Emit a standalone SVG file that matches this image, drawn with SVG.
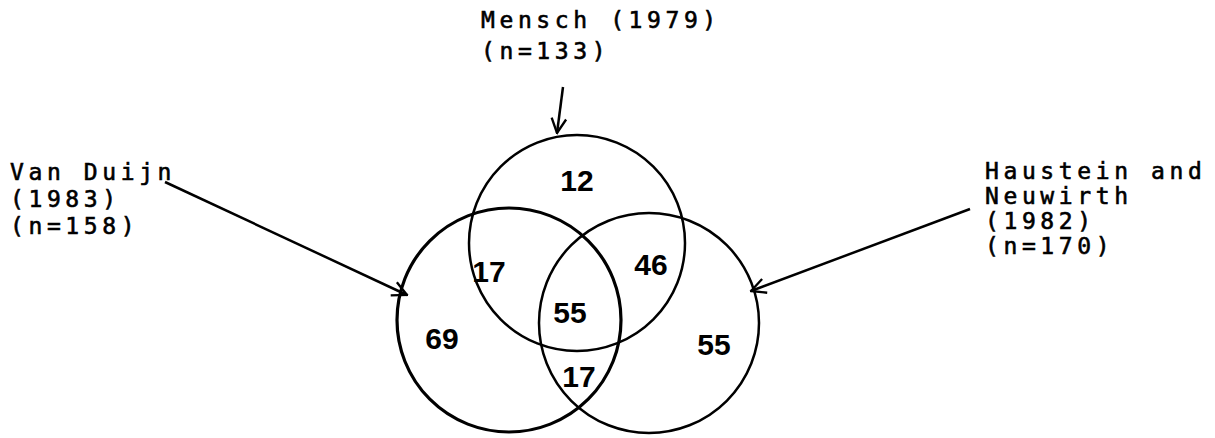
<svg xmlns="http://www.w3.org/2000/svg" width="1215" height="438" viewBox="0 0 1215 438">
<style>
.lbl{font-family:"DejaVu Sans Mono","Liberation Mono",monospace;font-size:23px;letter-spacing:4.6px;fill:#000;stroke:#000;stroke-width:0.6}
.num{font-family:"Liberation Sans",Arial,sans-serif;font-size:30px;font-weight:bold;fill:#000;text-anchor:middle;dominant-baseline:central}
.c{fill:none;stroke:#000;stroke-width:2.5}
.arr{fill:none;stroke:#000;stroke-width:2.5;marker-end:url(#ah)}
</style>
<defs>
<marker id="ah" viewBox="0 0 12 12" refX="11" refY="6" markerWidth="7" markerHeight="7" markerUnits="strokeWidth" orient="auto">
<path d="M1,1 L11,6 L1,11" fill="none" stroke="#000" stroke-width="1.6"/>
</marker>
</defs>
<rect width="1215" height="438" fill="#fff"/>
<g id="mensch">
<circle class="c" cx="577" cy="243" r="108"/>
<text class="lbl" x="481" y="28">Mensch (1979)</text>
<text class="lbl" x="481" y="59">(n=133)</text>
</g>
<g id="vanduijn">
<circle class="c" cx="509" cy="320" r="112" style="stroke-width:3.2"/>
<text class="lbl" x="10" y="180">Van Duijn</text>
<text class="lbl" x="10" y="207">(1983)</text>
<text class="lbl" x="10" y="234">(n=158)</text>
</g>
<g id="haustein">
<circle class="c" cx="649" cy="323" r="110"/>
<text class="lbl" x="985" y="179">Haustein and</text>
<text class="lbl" x="985" y="204">Neuwirth</text>
<text class="lbl" x="985" y="229">(1982)</text>
<text class="lbl" x="985" y="254">(n=170)</text>
</g>
<g id="regions">
<text class="num" x="577" y="180">12</text>
<text class="num" x="489" y="271">17</text>
<text class="num" x="651" y="264">46</text>
<text class="num" x="570" y="312">55</text>
<text class="num" x="442" y="338">69</text>
<text class="num" x="714" y="344">55</text>
<text class="num" x="579" y="376">17</text>
</g>
<g id="connectors">
<path class="arr" d="M563,87 L557,133"/>
<path class="arr" d="M165,182 L407,295"/>
<path class="arr" d="M970,209 L751,291"/>
</g>
</svg>
